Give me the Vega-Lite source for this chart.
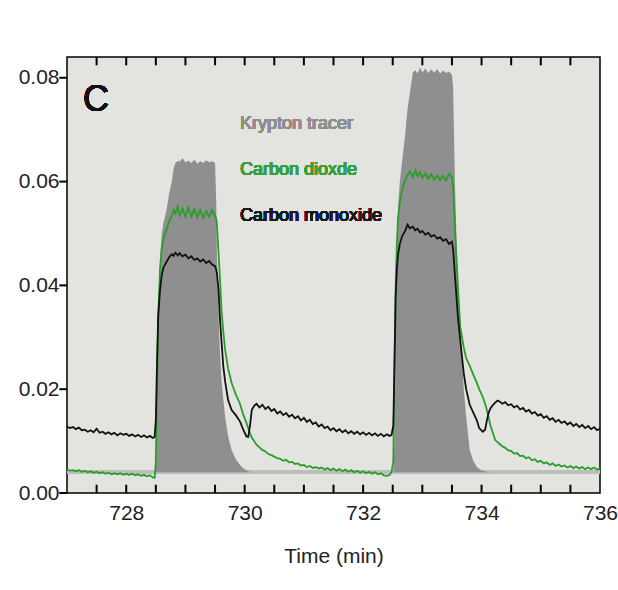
{
  "$schema": "https://vega.github.io/schema/vega-lite/v6.json",
  "width": 533,
  "height": 436,
  "autosize": "none",
  "padding": {"left": 67, "top": 57, "right": 18, "bottom": 97},
  "background": "#ffffff",
  "view": {"stroke": "#000000", "strokeWidth": 1.5, "fill": "#e3e3df"},
  "config": {
    "font": "Liberation Sans, Arial, sans-serif",
    "axis": {"labelFont": "Liberation Sans, Arial, sans-serif", "titleFont": "Liberation Sans, Arial, sans-serif"}
  },
  "datasets": {
    "xticks": [{"v":727.5},{"v":728},{"v":728.5},{"v":729},{"v":729.5},{"v":730},{"v":730.5},{"v":731},{"v":731.5},{"v":732},{"v":732.5},{"v":733},{"v":733.5},{"v":734},{"v":734.5},{"v":735},{"v":735.5}],
    "yticks": [{"v":0},{"v":0.02},{"v":0.04},{"v":0.06},{"v":0.08}]
  },
  "data": {"values": [
    {"t":727.00,"kr":0.0040,"co2":0.0045,"co":0.0128},
    {"t":727.05,"kr":0.0040,"co2":0.0043,"co":0.0125},
    {"t":727.10,"kr":0.0040,"co2":0.0044,"co":0.0127},
    {"t":727.15,"kr":0.0040,"co2":0.0042,"co":0.0123},
    {"t":727.20,"kr":0.0040,"co2":0.0044,"co":0.0126},
    {"t":727.25,"kr":0.0040,"co2":0.0041,"co":0.0121},
    {"t":727.30,"kr":0.0040,"co2":0.0043,"co":0.0122},
    {"t":727.35,"kr":0.0040,"co2":0.0040,"co":0.0118},
    {"t":727.40,"kr":0.0040,"co2":0.0042,"co":0.0121},
    {"t":727.45,"kr":0.0040,"co2":0.0039,"co":0.0117},
    {"t":727.50,"kr":0.0040,"co2":0.0041,"co":0.0124},
    {"t":727.55,"kr":0.0040,"co2":0.0038,"co":0.0116},
    {"t":727.60,"kr":0.0040,"co2":0.0040,"co":0.0118},
    {"t":727.65,"kr":0.0040,"co2":0.0037,"co":0.0114},
    {"t":727.70,"kr":0.0040,"co2":0.0039,"co":0.0117},
    {"t":727.75,"kr":0.0040,"co2":0.0036,"co":0.0113},
    {"t":727.80,"kr":0.0040,"co2":0.0038,"co":0.0116},
    {"t":727.85,"kr":0.0040,"co2":0.0036,"co":0.0111},
    {"t":727.90,"kr":0.0040,"co2":0.0038,"co":0.0115},
    {"t":727.95,"kr":0.0040,"co2":0.0035,"co":0.0112},
    {"t":728.00,"kr":0.0040,"co2":0.0037,"co":0.0114},
    {"t":728.05,"kr":0.0040,"co2":0.0035,"co":0.0110},
    {"t":728.10,"kr":0.0040,"co2":0.0037,"co":0.0113},
    {"t":728.15,"kr":0.0040,"co2":0.0034,"co":0.0109},
    {"t":728.20,"kr":0.0040,"co2":0.0036,"co":0.0112},
    {"t":728.25,"kr":0.0040,"co2":0.0033,"co":0.0108},
    {"t":728.30,"kr":0.0040,"co2":0.0035,"co":0.0111},
    {"t":728.35,"kr":0.0040,"co2":0.0032,"co":0.0107},
    {"t":728.40,"kr":0.0040,"co2":0.0034,"co":0.0110},
    {"t":728.45,"kr":0.0040,"co2":0.0030,"co":0.0106},
    {"t":728.48,"kr":0.0040,"co2":0.0029,"co":0.0108},
    {"t":728.50,"kr":0.0045,"co2":0.0060,"co":0.0140},
    {"t":728.52,"kr":0.0150,"co2":0.0200,"co":0.0250},
    {"t":728.54,"kr":0.0340,"co2":0.0340,"co":0.0340},
    {"t":728.57,"kr":0.0450,"co2":0.0430,"co":0.0390},
    {"t":728.60,"kr":0.0500,"co2":0.0470,"co":0.0420},
    {"t":728.63,"kr":0.0520,"co2":0.0490,"co":0.0435},
    {"t":728.68,"kr":0.0545,"co2":0.0507,"co":0.0445},
    {"t":728.73,"kr":0.0580,"co2":0.0525,"co":0.0455},
    {"t":728.77,"kr":0.0600,"co2":0.0533,"co":0.0460},
    {"t":728.80,"kr":0.0625,"co2":0.0545,"co":0.0457},
    {"t":728.83,"kr":0.0636,"co2":0.0538,"co":0.0463},
    {"t":728.87,"kr":0.0640,"co2":0.0552,"co":0.0458},
    {"t":728.90,"kr":0.0638,"co2":0.0535,"co":0.0462},
    {"t":728.95,"kr":0.0645,"co2":0.0548,"co":0.0456},
    {"t":729.00,"kr":0.0637,"co2":0.0533,"co":0.0459},
    {"t":729.05,"kr":0.0640,"co2":0.0550,"co":0.0452},
    {"t":729.10,"kr":0.0636,"co2":0.0532,"co":0.0456},
    {"t":729.15,"kr":0.0642,"co2":0.0547,"co":0.0449},
    {"t":729.20,"kr":0.0635,"co2":0.0531,"co":0.0452},
    {"t":729.25,"kr":0.0639,"co2":0.0546,"co":0.0446},
    {"t":729.30,"kr":0.0636,"co2":0.0530,"co":0.0450},
    {"t":729.35,"kr":0.0641,"co2":0.0543,"co":0.0443},
    {"t":729.40,"kr":0.0637,"co2":0.0532,"co":0.0447},
    {"t":729.45,"kr":0.0639,"co2":0.0545,"co":0.0440},
    {"t":729.50,"kr":0.0636,"co2":0.0535,"co":0.0437},
    {"t":729.52,"kr":0.0560,"co2":0.0528,"co":0.0430},
    {"t":729.53,"kr":0.0468,"co2":0.0520,"co":0.0425},
    {"t":729.56,"kr":0.0340,"co2":0.0460,"co":0.0390},
    {"t":729.58,"kr":0.0276,"co2":0.0420,"co":0.0340},
    {"t":729.61,"kr":0.0215,"co2":0.0350,"co":0.0290},
    {"t":729.64,"kr":0.0180,"co2":0.0310,"co":0.0243},
    {"t":729.67,"kr":0.0147,"co2":0.0276,"co":0.0215},
    {"t":729.72,"kr":0.0110,"co2":0.0240,"co":0.0179},
    {"t":729.78,"kr":0.0083,"co2":0.0212,"co":0.0160},
    {"t":729.85,"kr":0.0065,"co2":0.0190,"co":0.0150},
    {"t":729.92,"kr":0.0054,"co2":0.0172,"co":0.0138},
    {"t":729.98,"kr":0.0047,"co2":0.0150,"co":0.0121},
    {"t":730.03,"kr":0.0044,"co2":0.0135,"co":0.0109},
    {"t":730.06,"kr":0.0042,"co2":0.0125,"co":0.0108},
    {"t":730.09,"kr":0.0041,"co2":0.0115,"co":0.0130},
    {"t":730.12,"kr":0.0040,"co2":0.0107,"co":0.0160},
    {"t":730.16,"kr":0.0040,"co2":0.0100,"co":0.0168},
    {"t":730.20,"kr":0.0040,"co2":0.0093,"co":0.0172},
    {"t":730.25,"kr":0.0040,"co2":0.0088,"co":0.0165},
    {"t":730.30,"kr":0.0040,"co2":0.0083,"co":0.0170},
    {"t":730.35,"kr":0.0040,"co2":0.0080,"co":0.0162},
    {"t":730.40,"kr":0.0040,"co2":0.0075,"co":0.0166},
    {"t":730.45,"kr":0.0040,"co2":0.0073,"co":0.0158},
    {"t":730.50,"kr":0.0040,"co2":0.0070,"co":0.0162},
    {"t":730.55,"kr":0.0040,"co2":0.0067,"co":0.0153},
    {"t":730.60,"kr":0.0040,"co2":0.0066,"co":0.0157},
    {"t":730.65,"kr":0.0040,"co2":0.0062,"co":0.0150},
    {"t":730.70,"kr":0.0040,"co2":0.0064,"co":0.0154},
    {"t":730.75,"kr":0.0040,"co2":0.0059,"co":0.0147},
    {"t":730.80,"kr":0.0040,"co2":0.0060,"co":0.0151},
    {"t":730.85,"kr":0.0040,"co2":0.0056,"co":0.0144},
    {"t":730.90,"kr":0.0040,"co2":0.0057,"co":0.0148},
    {"t":730.95,"kr":0.0040,"co2":0.0053,"co":0.0140},
    {"t":731.00,"kr":0.0040,"co2":0.0054,"co":0.0145},
    {"t":731.05,"kr":0.0040,"co2":0.0050,"co":0.0137},
    {"t":731.10,"kr":0.0040,"co2":0.0052,"co":0.0141},
    {"t":731.15,"kr":0.0040,"co2":0.0048,"co":0.0133},
    {"t":731.20,"kr":0.0040,"co2":0.0050,"co":0.0136},
    {"t":731.25,"kr":0.0040,"co2":0.0047,"co":0.0128},
    {"t":731.30,"kr":0.0040,"co2":0.0049,"co":0.0132},
    {"t":731.35,"kr":0.0040,"co2":0.0045,"co":0.0125},
    {"t":731.40,"kr":0.0040,"co2":0.0048,"co":0.0128},
    {"t":731.45,"kr":0.0040,"co2":0.0044,"co":0.0121},
    {"t":731.50,"kr":0.0040,"co2":0.0047,"co":0.0125},
    {"t":731.55,"kr":0.0040,"co2":0.0043,"co":0.0119},
    {"t":731.60,"kr":0.0040,"co2":0.0046,"co":0.0123},
    {"t":731.65,"kr":0.0040,"co2":0.0042,"co":0.0117},
    {"t":731.70,"kr":0.0040,"co2":0.0045,"co":0.0121},
    {"t":731.75,"kr":0.0040,"co2":0.0041,"co":0.0115},
    {"t":731.80,"kr":0.0040,"co2":0.0044,"co":0.0119},
    {"t":731.85,"kr":0.0040,"co2":0.0040,"co":0.0114},
    {"t":731.90,"kr":0.0040,"co2":0.0043,"co":0.0118},
    {"t":731.95,"kr":0.0040,"co2":0.0039,"co":0.0113},
    {"t":732.00,"kr":0.0040,"co2":0.0042,"co":0.0117},
    {"t":732.05,"kr":0.0040,"co2":0.0038,"co":0.0112},
    {"t":732.10,"kr":0.0040,"co2":0.0041,"co":0.0116},
    {"t":732.15,"kr":0.0040,"co2":0.0037,"co":0.0111},
    {"t":732.20,"kr":0.0040,"co2":0.0040,"co":0.0115},
    {"t":732.25,"kr":0.0040,"co2":0.0036,"co":0.0110},
    {"t":732.30,"kr":0.0040,"co2":0.0038,"co":0.0114},
    {"t":732.35,"kr":0.0040,"co2":0.0034,"co":0.0109},
    {"t":732.40,"kr":0.0040,"co2":0.0033,"co":0.0113},
    {"t":732.45,"kr":0.0040,"co2":0.0035,"co":0.0110},
    {"t":732.48,"kr":0.0040,"co2":0.0041,"co":0.0112},
    {"t":732.51,"kr":0.0042,"co2":0.0060,"co":0.0130},
    {"t":732.53,"kr":0.0100,"co2":0.0250,"co":0.0250},
    {"t":732.55,"kr":0.0300,"co2":0.0400,"co":0.0380},
    {"t":732.57,"kr":0.0450,"co2":0.0480,"co":0.0430},
    {"t":732.59,"kr":0.0550,"co2":0.0530,"co":0.0460},
    {"t":732.62,"kr":0.0600,"co2":0.0560,"co":0.0480},
    {"t":732.66,"kr":0.0640,"co2":0.0585,"co":0.0495},
    {"t":732.71,"kr":0.0690,"co2":0.0603,"co":0.0505},
    {"t":732.75,"kr":0.0740,"co2":0.0612,"co":0.0517},
    {"t":732.79,"kr":0.0771,"co2":0.0620,"co":0.0510},
    {"t":732.84,"kr":0.0810,"co2":0.0608,"co":0.0513},
    {"t":732.88,"kr":0.0815,"co2":0.0622,"co":0.0506},
    {"t":732.92,"kr":0.0808,"co2":0.0610,"co":0.0509},
    {"t":732.96,"kr":0.0820,"co2":0.0618,"co":0.0502},
    {"t":733.00,"kr":0.0810,"co2":0.0607,"co":0.0505},
    {"t":733.05,"kr":0.0818,"co2":0.0616,"co":0.0498},
    {"t":733.10,"kr":0.0809,"co2":0.0605,"co":0.0501},
    {"t":733.15,"kr":0.0816,"co2":0.0614,"co":0.0494},
    {"t":733.20,"kr":0.0810,"co2":0.0603,"co":0.0497},
    {"t":733.25,"kr":0.0817,"co2":0.0612,"co":0.0490},
    {"t":733.30,"kr":0.0808,"co2":0.0603,"co":0.0493},
    {"t":733.35,"kr":0.0814,"co2":0.0611,"co":0.0486},
    {"t":733.40,"kr":0.0809,"co2":0.0602,"co":0.0489},
    {"t":733.45,"kr":0.0812,"co2":0.0615,"co":0.0480},
    {"t":733.50,"kr":0.0806,"co2":0.0608,"co":0.0484},
    {"t":733.52,"kr":0.0780,"co2":0.0590,"co":0.0470},
    {"t":733.55,"kr":0.0600,"co2":0.0510,"co":0.0420},
    {"t":733.60,"kr":0.0400,"co2":0.0400,"co":0.0340},
    {"t":733.64,"kr":0.0310,"co2":0.0320,"co":0.0295},
    {"t":733.70,"kr":0.0200,"co2":0.0280,"co":0.0230},
    {"t":733.74,"kr":0.0147,"co2":0.0260,"co":0.0200},
    {"t":733.80,"kr":0.0083,"co2":0.0245,"co":0.0170},
    {"t":733.86,"kr":0.0062,"co2":0.0228,"co":0.0155},
    {"t":733.92,"kr":0.0050,"co2":0.0212,"co":0.0140},
    {"t":733.96,"kr":0.0046,"co2":0.0200,"co":0.0125},
    {"t":734.02,"kr":0.0043,"co2":0.0185,"co":0.0118},
    {"t":734.06,"kr":0.0042,"co2":0.0172,"co":0.0122},
    {"t":734.09,"kr":0.0041,"co2":0.0160,"co":0.0140},
    {"t":734.12,"kr":0.0040,"co2":0.0145,"co":0.0155},
    {"t":734.15,"kr":0.0040,"co2":0.0130,"co":0.0163},
    {"t":734.18,"kr":0.0040,"co2":0.0120,"co":0.0168},
    {"t":734.23,"kr":0.0040,"co2":0.0102,"co":0.0174},
    {"t":734.27,"kr":0.0040,"co2":0.0098,"co":0.0178},
    {"t":734.31,"kr":0.0040,"co2":0.0094,"co":0.0176},
    {"t":734.35,"kr":0.0040,"co2":0.0090,"co":0.0172},
    {"t":734.40,"kr":0.0040,"co2":0.0087,"co":0.0175},
    {"t":734.45,"kr":0.0040,"co2":0.0082,"co":0.0169},
    {"t":734.50,"kr":0.0040,"co2":0.0081,"co":0.0171},
    {"t":734.55,"kr":0.0040,"co2":0.0076,"co":0.0165},
    {"t":734.60,"kr":0.0040,"co2":0.0077,"co":0.0168},
    {"t":734.65,"kr":0.0040,"co2":0.0071,"co":0.0161},
    {"t":734.70,"kr":0.0040,"co2":0.0072,"co":0.0164},
    {"t":734.75,"kr":0.0040,"co2":0.0067,"co":0.0157},
    {"t":734.80,"kr":0.0040,"co2":0.0069,"co":0.0160},
    {"t":734.85,"kr":0.0040,"co2":0.0063,"co":0.0153},
    {"t":734.90,"kr":0.0040,"co2":0.0065,"co":0.0156},
    {"t":734.95,"kr":0.0040,"co2":0.0060,"co":0.0149},
    {"t":735.00,"kr":0.0040,"co2":0.0062,"co":0.0152},
    {"t":735.05,"kr":0.0040,"co2":0.0057,"co":0.0145},
    {"t":735.10,"kr":0.0040,"co2":0.0059,"co":0.0148},
    {"t":735.15,"kr":0.0040,"co2":0.0054,"co":0.0141},
    {"t":735.20,"kr":0.0040,"co2":0.0057,"co":0.0144},
    {"t":735.25,"kr":0.0040,"co2":0.0052,"co":0.0137},
    {"t":735.30,"kr":0.0040,"co2":0.0055,"co":0.0141},
    {"t":735.35,"kr":0.0040,"co2":0.0051,"co":0.0135},
    {"t":735.40,"kr":0.0040,"co2":0.0053,"co":0.0138},
    {"t":735.45,"kr":0.0040,"co2":0.0049,"co":0.0132},
    {"t":735.50,"kr":0.0040,"co2":0.0052,"co":0.0136},
    {"t":735.55,"kr":0.0040,"co2":0.0048,"co":0.0129},
    {"t":735.60,"kr":0.0040,"co2":0.0051,"co":0.0133},
    {"t":735.65,"kr":0.0040,"co2":0.0047,"co":0.0127},
    {"t":735.70,"kr":0.0040,"co2":0.0050,"co":0.0131},
    {"t":735.75,"kr":0.0040,"co2":0.0046,"co":0.0125},
    {"t":735.80,"kr":0.0040,"co2":0.0049,"co":0.0129},
    {"t":735.85,"kr":0.0040,"co2":0.0046,"co":0.0123},
    {"t":735.90,"kr":0.0040,"co2":0.0049,"co":0.0127},
    {"t":735.95,"kr":0.0040,"co2":0.0045,"co":0.0121},
    {"t":736.00,"kr":0.0040,"co2":0.0048,"co":0.0124}
  ]},
  "resolve": {"axis": {"x": "independent", "y": "independent"}},
  "layer": [
    {
      "mark": {"type": "rule", "color": "#bdbdbd", "strokeWidth": 3},
      "encoding": {
        "y": {"datum": 0.0041, "type": "quantitative", "scale": {"domain": [0, 0.084], "nice": false, "zero": false},
          "axis": {"values": [0, 0.02, 0.04, 0.06, 0.08], "format": ".2f", "ticks": false,
            "domain": false, "grid": false, "labelFontSize": 21, "labelColor": "#222", "labelPadding": 8, "title": null}}
      }
    },
    {
      "mark": {"type": "area", "color": "#8f8f8f", "opacity": 1},
      "encoding": {
        "x": {"field": "t", "type": "quantitative", "scale": {"domain": [727, 736], "nice": false, "zero": false},
          "axis": {"orient": "bottom", "values": [728, 730, 732, 734, 736], "format": "d",
            "ticks": false, "domain": false, "grid": false,
            "labelFontSize": 21, "labelColor": "#222", "labelPadding": 9, "labelFlush": false, "labelOverlap": false, "labelBound": false,
            "title": "Time (min)", "titleFontSize": 21, "titleFontWeight": "normal", "titleColor": "#222", "titlePadding": 22}},
        "y": {"field": "kr", "type": "quantitative", "axis": null},
        "y2": {"datum": 0.004}
      }
    },
    {
      "mark": {"type": "line", "color": "#2a9d2a", "strokeWidth": 1.8},
      "encoding": {
        "x": {"field": "t", "type": "quantitative", "axis": null},
        "y": {"field": "co2", "type": "quantitative", "axis": null}
      }
    },
    {
      "mark": {"type": "line", "color": "#111111", "strokeWidth": 1.8},
      "encoding": {
        "x": {"field": "t", "type": "quantitative", "axis": null},
        "y": {"field": "co", "type": "quantitative", "axis": null}
      }
    },
    {
      "data": {"name": "xticks"},
      "mark": {"type": "rule", "color": "#000000", "strokeWidth": 2},
      "encoding": {
        "x": {"field": "v", "type": "quantitative", "axis": null},
        "y": {"datum": 0, "type": "quantitative", "axis": null},
        "y2": {"datum": 0.0016}
      }
    },
    {
      "data": {"name": "xticks"},
      "mark": {"type": "rule", "color": "#000000", "strokeWidth": 2},
      "encoding": {
        "x": {"field": "v", "type": "quantitative", "axis": null},
        "y": {"datum": 0.084, "type": "quantitative", "axis": null},
        "y2": {"datum": 0.0824}
      }
    },
    {
      "data": {"name": "yticks"},
      "mark": {"type": "rule", "color": "#000000", "strokeWidth": 2},
      "encoding": {
        "y": {"field": "v", "type": "quantitative", "axis": null},
        "x": {"datum": 726.87, "type": "quantitative", "axis": null},
        "x2": {"datum": 727}
      }
    },
    {
      "mark": {"type": "text", "text": "C", "fontSize": 36, "color": "#111", "align": "center", "baseline": "middle"},
      "encoding": {"x": {"datum": 727.49, "type": "quantitative", "axis": null}, "y": {"datum": 0.0758, "type": "quantitative", "axis": null}}
    },
    {
      "mark": {"type": "text", "text": "Krypton tracer", "fontSize": 18, "color": "#8e8e8e", "align": "left", "baseline": "middle"},
      "encoding": {"x": {"datum": 729.92, "type": "quantitative", "axis": null}, "y": {"datum": 0.0711, "type": "quantitative", "axis": null}}
    },
    {
      "mark": {"type": "text", "text": "Carbon dioxde", "fontSize": 18, "color": "#3aa03a", "align": "left", "baseline": "middle"},
      "encoding": {"x": {"datum": 729.92, "type": "quantitative", "axis": null}, "y": {"datum": 0.0623, "type": "quantitative", "axis": null}}
    },
    {
      "mark": {"type": "text", "text": "Carbon monoxide", "fontSize": 18, "color": "#1a1a1a", "align": "left", "baseline": "middle"},
      "encoding": {"x": {"datum": 729.92, "type": "quantitative", "axis": null}, "y": {"datum": 0.0534, "type": "quantitative", "axis": null}}
    }
  ]
}
